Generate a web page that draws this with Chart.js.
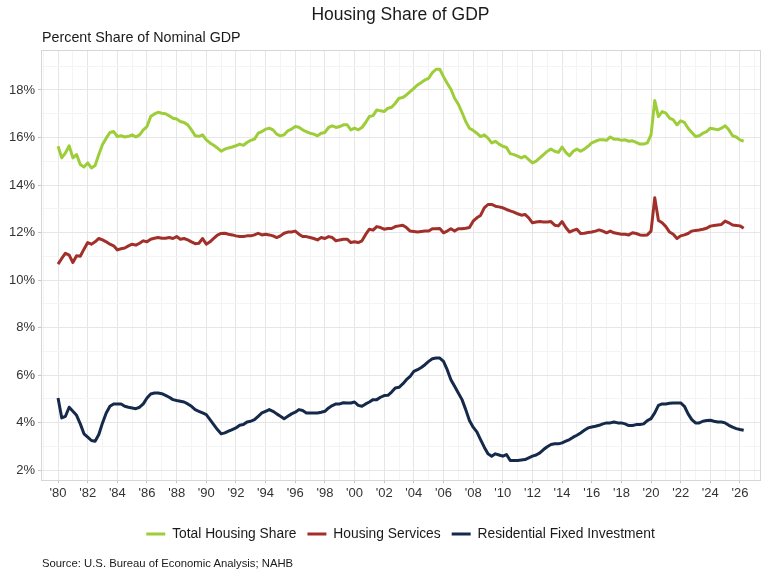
<!DOCTYPE html>
<html>
<head>
<meta charset="utf-8">
<script src="https://cdn.jsdelivr.net/npm/chart.js@4.4.1/dist/chart.umd.min.js"></script>
<style>
  html, body { margin:0; padding:0; background:#fff; }
  #wrap { position:relative; width:768px; height:576px; background:#fff; font-family:"Liberation Sans", Arial, sans-serif; color:#222; }
  #title { position:absolute; left:41px; width:719px; top:4px; text-align:center; font-size:17.5px; line-height:20px; color:#1a1a1a; }
  #subtitle { position:absolute; left:42px; top:28px; font-size:14.3px; line-height:18px; color:#1a1a1a; }
  #source { position:absolute; left:42px; top:556px; font-size:11.3px; line-height:14px; color:#1a1a1a; }
  canvas { position:absolute; left:0; top:0; }
</style>
</head>
<body>
<div id="wrap">
  <canvas id="c" width="768" height="576"></canvas>
  <div id="title">Housing Share of GDP</div>
  <div id="subtitle">Percent Share of Nominal GDP</div>
  <div id="source">Source: U.S. Bureau of Economic Analysis; NAHB</div>
</div>
<script>
// Quarterly series, 1980 Q1 onward
const startYear = 1980;
const seriesNames = ["Total Housing Share", "Housing Services", "Residential Fixed Investment"];
const seriesColors = ["#9ECD3A", "#A2302A", "#15294A"];

const totalHousingShare = [
  15.63, 15.14, 15.35, 15.65,
  15.14, 15.28, 14.86, 14.76,
  14.93, 14.72, 14.82, 15.28,
  15.70, 15.97, 16.21, 16.25,
  16.04, 16.07, 16.02, 16.05,
  16.11, 16.02, 16.11, 16.32,
  16.46, 16.88, 16.99, 17.06,
  17.02, 17.00, 16.91, 16.81,
  16.78, 16.67, 16.63, 16.53,
  16.32, 16.07, 16.05, 16.11,
  15.90, 15.77, 15.67, 15.56,
  15.42, 15.51, 15.56, 15.60,
  15.65, 15.72, 15.67, 15.79,
  15.88, 15.93, 16.18, 16.25,
  16.35, 16.39, 16.32, 16.14,
  16.07, 16.11, 16.28, 16.35,
  16.46, 16.43, 16.32, 16.24,
  16.18, 16.14, 16.07, 16.18,
  16.21, 16.42, 16.49, 16.42,
  16.46, 16.53, 16.53, 16.32,
  16.39, 16.32, 16.42, 16.63,
  16.88, 16.92, 17.16, 17.12,
  17.09, 17.23, 17.27, 17.44,
  17.65, 17.68, 17.79, 17.93,
  18.07, 18.21, 18.31, 18.42,
  18.49, 18.73, 18.87, 18.87,
  18.56, 18.28, 18.03, 17.65,
  17.40, 17.05, 16.67, 16.39,
  16.30, 16.18, 16.04, 16.11,
  15.97, 15.77, 15.84, 15.72,
  15.63, 15.58, 15.32, 15.28,
  15.21, 15.14, 15.21, 15.07,
  14.93, 15.00, 15.14, 15.28,
  15.42, 15.51, 15.42, 15.37,
  15.60, 15.37, 15.23, 15.42,
  15.51, 15.42, 15.51, 15.63,
  15.77, 15.84, 15.90, 15.90,
  15.88, 16.02, 15.93, 15.93,
  15.88, 15.90, 15.84, 15.86,
  15.79, 15.72, 15.72, 15.77,
  16.11, 17.55, 16.88, 17.09,
  17.02, 16.81, 16.74, 16.53,
  16.70, 16.63, 16.39, 16.21,
  16.04, 16.07, 16.18, 16.25,
  16.39, 16.36, 16.32, 16.39,
  16.49, 16.32, 16.07, 16.02,
  15.90, 15.84
];

const housingServices = [
  10.67, 10.91, 11.13, 11.05,
  10.74, 11.02, 11.00, 11.30,
  11.58, 11.51, 11.61, 11.75,
  11.69, 11.61, 11.51, 11.44,
  11.27, 11.32, 11.35, 11.44,
  11.51, 11.47, 11.55, 11.65,
  11.61, 11.72, 11.76, 11.79,
  11.76, 11.76, 11.79, 11.75,
  11.83, 11.72, 11.75, 11.69,
  11.61, 11.53, 11.55, 11.75,
  11.51, 11.61, 11.75, 11.89,
  11.96, 11.97, 11.93, 11.90,
  11.86, 11.83, 11.83, 11.86,
  11.86, 11.90, 11.97, 11.90,
  11.93, 11.90, 11.86, 11.79,
  11.86, 11.97, 12.02, 12.02,
  12.06, 11.93, 11.83, 11.83,
  11.79, 11.75, 11.69, 11.79,
  11.75, 11.83, 11.79, 11.65,
  11.69, 11.72, 11.72, 11.58,
  11.61, 11.58, 11.65, 11.92,
  12.14, 12.10, 12.25, 12.21,
  12.14, 12.17, 12.17, 12.25,
  12.28, 12.31, 12.21, 12.06,
  12.04, 12.02, 12.04, 12.06,
  12.06, 12.16, 12.16, 12.17,
  11.99, 12.06, 12.16, 12.06,
  12.16, 12.16, 12.18, 12.21,
  12.48, 12.62, 12.72, 13.04,
  13.18, 13.18, 13.11, 13.08,
  13.04, 12.97, 12.91, 12.86,
  12.79, 12.73, 12.76, 12.62,
  12.41, 12.44, 12.46, 12.44,
  12.44, 12.46, 12.31, 12.28,
  12.46, 12.21, 12.02, 12.09,
  12.14, 11.96, 11.97, 12.00,
  12.02, 12.06, 12.11, 12.06,
  11.99, 12.06, 11.99, 11.96,
  11.93, 11.93, 11.90, 11.99,
  11.96, 11.90, 11.89, 11.90,
  12.06, 13.46, 12.51, 12.41,
  12.25, 12.02, 11.93, 11.75,
  11.86, 11.90, 11.96, 12.06,
  12.09, 12.11, 12.14, 12.18,
  12.27, 12.30, 12.32, 12.34,
  12.48, 12.41, 12.32, 12.30,
  12.28, 12.18
];

const residentialFixedInvestment = [
  5.04, 4.20, 4.27, 4.65,
  4.48, 4.31, 3.95, 3.53,
  3.39, 3.25, 3.22, 3.50,
  3.99, 4.41, 4.69, 4.79,
  4.79, 4.79, 4.69, 4.65,
  4.62, 4.59, 4.65, 4.79,
  5.04, 5.21, 5.25, 5.25,
  5.22, 5.15, 5.07, 4.97,
  4.93, 4.90, 4.87, 4.79,
  4.69, 4.55, 4.48, 4.41,
  4.34, 4.13, 3.92, 3.71,
  3.53, 3.57, 3.64, 3.71,
  3.78, 3.89, 3.92, 4.03,
  4.06, 4.13, 4.27, 4.41,
  4.48, 4.55, 4.48, 4.37,
  4.27, 4.17, 4.27, 4.37,
  4.44, 4.55, 4.51, 4.41,
  4.41, 4.41, 4.41, 4.44,
  4.48, 4.62, 4.72, 4.79,
  4.79, 4.84, 4.83, 4.83,
  4.87, 4.73, 4.69, 4.79,
  4.87, 4.97, 4.97, 5.07,
  5.14, 5.15, 5.29, 5.46,
  5.49, 5.63, 5.81, 5.95,
  6.16, 6.23, 6.32, 6.44,
  6.58, 6.69, 6.72, 6.72,
  6.58, 6.23, 5.81, 5.53,
  5.25, 4.97, 4.55, 4.09,
  3.81, 3.61, 3.29, 2.97,
  2.69, 2.59, 2.69, 2.64,
  2.59, 2.66, 2.41, 2.41,
  2.41, 2.43, 2.45, 2.52,
  2.59, 2.64, 2.73, 2.87,
  2.99, 3.08, 3.11, 3.11,
  3.15, 3.22, 3.29, 3.39,
  3.47, 3.57, 3.68, 3.78,
  3.82, 3.85, 3.89, 3.95,
  3.99, 3.99, 4.03, 3.99,
  3.99, 3.95, 3.88, 3.88,
  3.92, 3.92, 3.95, 4.09,
  4.17, 4.41, 4.73, 4.79,
  4.79, 4.82, 4.83, 4.83,
  4.83, 4.69, 4.37, 4.13,
  3.99, 3.99, 4.06, 4.09,
  4.10, 4.06, 4.03, 4.03,
  3.99, 3.89, 3.81, 3.75,
  3.71, 3.68
];

const FONT = '"Liberation Sans", Arial, sans-serif';
const MAJOR_GRID = '#E6E6E6';
const MINOR_GRID = '#F4F4F4';
const TICK_COLOR = '#333333';

function toPoints(values) {
  return values.map((v, i) => ({ x: startYear + i / 4, y: v }));
}

const allSeries = [totalHousingShare, housingServices, residentialFixedInvestment];
const datasets = allSeries.map((vals, k) => ({
  label: seriesNames[k],
  data: toPoints(vals),
  borderColor: seriesColors[k],
  backgroundColor: seriesColors[k],
  borderWidth: 3,
  pointRadius: 0,
  pointHoverRadius: 0,
  tension: 0,
  borderJoinStyle: 'round',
  borderCapStyle: 'butt'
}));

const panelBorder = {
  id: 'panelBorder',
  beforeDatasetsDraw(chart) {
    const a = chart.chartArea, ctx = chart.ctx;
    ctx.save();
    ctx.strokeStyle = '#D6D6D6';
    ctx.lineWidth = 1;
    ctx.strokeRect(Math.round(a.left) + 0.5, Math.round(a.top) + 0.5, Math.round(a.right - a.left), Math.round(a.bottom - a.top));
    ctx.restore();
  }
};

const isMajor = (v) => Math.abs(Math.round(v) % 2) === 0;

new Chart(document.getElementById('c'), {
  type: 'line',
  data: { datasets },
  plugins: [panelBorder],
  options: {
    responsive: false,
    animation: false,
    events: [],
    layout: { padding: { left: 0, right: 8, top: 50, bottom: 25 } },
    plugins: {
      title: { display: false },
      tooltip: { enabled: false },
      legend: {
        position: 'bottom',
        fullSize: false,
        labels: {
          usePointStyle: true,
          pointStyle: 'line',
          pointStyleWidth: 19,
          padding: 11,
          color: '#1a1a1a',
          font: { family: FONT, size: 13.8 }
        }
      }
    },
    scales: {
      x: {
        type: 'linear',
        min: 1978.85,
        max: 2027.35,
        afterFit: (s) => { s.height = 36; },
        border: { display: true, color: '#C4C4C4', width: 1 },
        grid: {
          color: (c) => (c.tick && isMajor(c.tick.value)) ? MAJOR_GRID : MINOR_GRID,
          tickColor: (c) => (c.tick && isMajor(c.tick.value)) ? '#C4C4C4' : 'rgba(0,0,0,0)',
          tickLength: 3,
          drawTicks: true
        },
        ticks: {
          stepSize: 1,
          includeBounds: false,
          autoSkip: false,
          maxRotation: 0,
          padding: 2,
          color: TICK_COLOR,
          font: { family: FONT, size: 13 },
          callback: (v) => isMajor(v) ? "'" + String(Math.round(v)).slice(2) : ''
        }
      },
      y: {
        min: 1.58,
        max: 19.68,
        afterFit: (s) => { s.width = 41; },
        border: { display: true, color: '#D6D6D6', width: 1 },
        grid: {
          color: (c) => (c.tick && isMajor(c.tick.value)) ? MAJOR_GRID : MINOR_GRID,
          tickColor: (c) => (c.tick && isMajor(c.tick.value)) ? '#C4C4C4' : 'rgba(0,0,0,0)',
          tickLength: 3,
          drawTicks: true
        },
        ticks: {
          stepSize: 1,
          includeBounds: false,
          padding: 3,
          color: TICK_COLOR,
          font: { family: FONT, size: 13 },
          callback: (v) => isMajor(v) ? Math.round(v) + '%' : ''
        }
      }
    }
  }
});
</script>
</body>
</html>
